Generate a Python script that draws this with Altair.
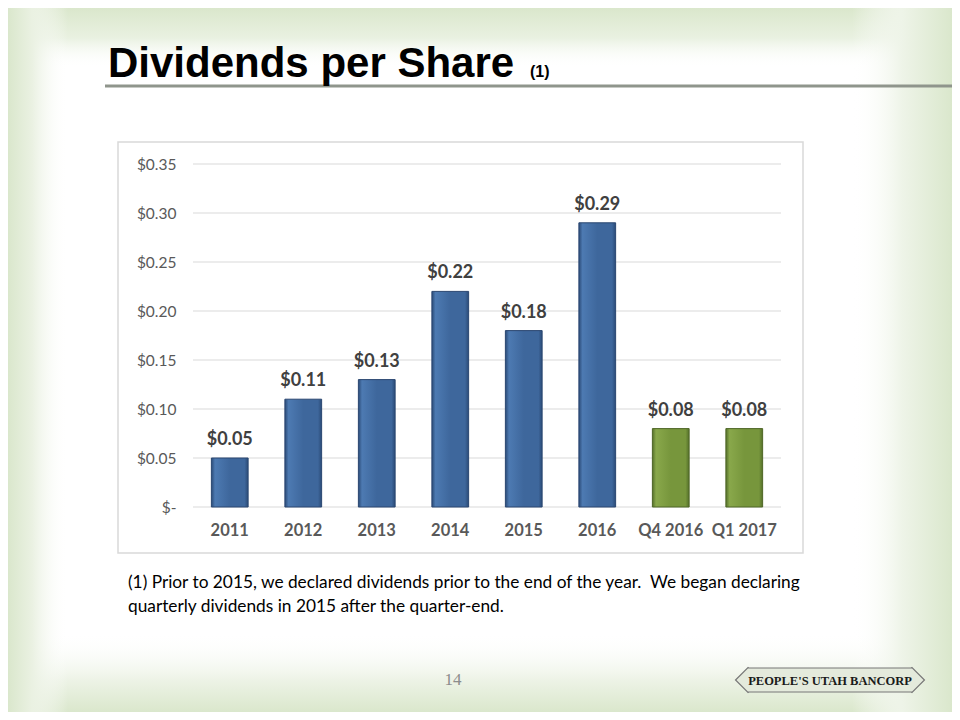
import altair as alt
import pandas as pd

categories = ["2011", "2012", "2013", "2014", "2015", "2016", "Q4 2016", "Q1 2017"]
values = [0.05, 0.11, 0.13, 0.22, 0.18, 0.29, 0.08, 0.08]
groups = ["annual", "annual", "annual", "annual", "annual", "annual", "quarter", "quarter"]
tick_values = [0.0, 0.05, 0.10, 0.15, 0.20, 0.25, 0.30, 0.35]

title_text = "Dividends per Share"
title_note = "(1)"
footnote_lines = [
    "(1) Prior to 2015, we declared dividends prior to the end of the year.\u00a0 We began declaring",
    "quarterly dividends in 2015 after the quarter-end.",
]
page_number = "14"
logo_text = "PEOPLE'S UTAH BANCORP"

df = pd.DataFrame({"category": categories, "value": values, "group": groups})
df["label"] = ["$" + format(v, ".2f") for v in values]
ticks = pd.DataFrame({"value": tick_values})
one = pd.DataFrame({"k": [0]})

W, H = 588, 343
PL, PT, PR, PB = 185, 156, 171, 205
X0, X1, Y0, Y1 = -PL, W + PR, -PT, H + PB

BODY = "Lato, Carlito, Calibri, sans-serif"

x_enc = alt.X(
    "category:N",
    sort=categories,
    scale=alt.Scale(paddingInner=0.5, paddingOuter=0.25),
    axis=alt.Axis(
        title=None, labelAngle=0, ticks=False, domain=False, grid=False, zindex=2,
        labelFont=BODY, labelFontSize=16.5, labelFontWeight="bold",
        labelColor="#595959", labelPadding=15,
    ),
)
y_axis = alt.Axis(
    title=None, values=tick_values, ticks=False, domain=False, grid=False, zindex=2,
    labelFont=BODY, labelFontSize=15.5, labelColor="#595959", labelPadding=17,
    labelExpr="datum.value == 0 ? '$-\u00a0\u00a0' : '$' + format(datum.value, '.2f')",
)
y_scale = alt.Scale(domain=[0, 0.35], nice=False)


def y_enc():
    return alt.Y("value:Q", scale=y_scale, axis=y_axis)


G = "#dae7cc"
T = "rgba(255,255,255,0)"


def fade(x1, y1, x2, y2, stops):
    return alt.Gradient(
        gradient="linear", x1=x1, y1=y1, x2=x2, y2=y2,
        stops=[alt.GradientStop(offset=o, color=c) for o, c in stops],
    )


base_bg = alt.Chart(one).mark_rect(fill="#ffffff").encode(
    x=alt.value(X0), x2=alt.value(X1), y=alt.value(Y0), y2=alt.value(Y1)
)
top_bg = alt.Chart(one).mark_rect(fill=fade(0, 0, 0, 1, [(0, G), (0.5, "#e9f1e1"), (1, T)])).encode(
    x=alt.value(X0), x2=alt.value(X1), y=alt.value(Y0), y2=alt.value(Y0 + 60)
)
bottom_bg = alt.Chart(one).mark_rect(fill=fade(0, 0, 0, 1, [(0, T), (0.6, "#edf3e6"), (1, G)])).encode(
    x=alt.value(X0), x2=alt.value(X1), y=alt.value(Y1 - 80), y2=alt.value(Y1)
)
left_bg = alt.Chart(one).mark_rect(fill=fade(0, 0, 1, 0, [(0, G), (0.4, "#eaf1e2"), (1, T)])).encode(
    x=alt.value(X0), x2=alt.value(X0 + 60), y=alt.value(Y0), y2=alt.value(Y1)
)
right_bg = alt.Chart(one).mark_rect(fill=fade(0, 0, 1, 0, [(0, T), (0.5, "#eef4e8"), (1, G)])).encode(
    x=alt.value(X1 - 100), x2=alt.value(X1), y=alt.value(Y0), y2=alt.value(Y1)
)

frame = alt.Chart(one).mark_rect(fill="#ffffff", stroke="#d9d9d9", strokeWidth=1.5).encode(
    x=alt.value(-75), x2=alt.value(610), y=alt.value(-22), y2=alt.value(389)
)

title_rule = alt.Chart(one).mark_rule(color="#8f958c", strokeWidth=3).encode(
    x=alt.value(-88), x2=alt.value(X1), y=alt.value(-78)
)

title = alt.Chart(one).mark_text(
    text=title_text, align="left", baseline="alphabetic",
    font="Liberation Sans, Arial, sans-serif",
    fontSize=42, fontWeight="bold", color="#000000",
).encode(x=alt.value(-85), y=alt.value(-87))

title_sup = alt.Chart(one).mark_text(
    text=title_note, align="left", baseline="alphabetic",
    font="Liberation Sans, Arial, sans-serif", fontSize=16, fontWeight="bold", color="#000000",
).encode(x=alt.value(337), y=alt.value(-87))

grid = alt.Chart(ticks).mark_rule(color="#d9d9d9", strokeWidth=1.2).encode(
    y=y_enc(), x=alt.value(0), x2=alt.value(W)
)


def bar_fill(edge, mid, light):
    return alt.Gradient(
        gradient="linear", x1=0, y1=0, x2=1, y2=0,
        stops=[
            alt.GradientStop(offset=0, color=edge),
            alt.GradientStop(offset=0.1, color=light),
            alt.GradientStop(offset=0.5, color=mid),
            alt.GradientStop(offset=0.9, color=mid),
            alt.GradientStop(offset=1, color=edge),
        ],
    )


bars_blue = alt.Chart(df).transform_filter(alt.datum.group == "annual").mark_bar(
    fill=bar_fill("#2b4b77", "#3e679c", "#4d7ab2"), stroke="#2a4670", strokeWidth=1
).encode(x=x_enc, y=y_enc())

bars_green = alt.Chart(df).transform_filter(alt.datum.group == "quarter").mark_bar(
    fill=bar_fill("#55702a", "#77963c", "#89a84b"), stroke="#4e6626", strokeWidth=1
).encode(x=x_enc, y=y_enc())

labels = alt.Chart(df).mark_text(
    baseline="bottom", dy=-9, font=BODY, fontSize=18, fontWeight="bold", color="#404040"
).encode(x=x_enc, y=y_enc(), text="label:N")

foot1 = alt.Chart(one).mark_text(
    text=footnote_lines[0], align="left", baseline="alphabetic",
    font=BODY, fontSize=17.3, color="#000000",
).encode(x=alt.value(-65), y=alt.value(424))
foot2 = alt.Chart(one).mark_text(
    text=footnote_lines[1], align="left", baseline="alphabetic",
    font=BODY, fontSize=17.3, color="#000000",
).encode(x=alt.value(-65), y=alt.value(448))

page = alt.Chart(one).mark_text(
    text=page_number, align="center", baseline="middle",
    font="Liberation Serif, Times New Roman, serif", fontSize=17, color="#8c8c8c",
).encode(x=alt.value(260), y=alt.value(516))

logo_ends = alt.Chart(pd.DataFrame({"px": [555, 719]})).mark_point(
    shape="diamond", size=620, filled=True, fill="#e4eadc", stroke="#777777", strokeWidth=1.2, opacity=1
).encode(x=alt.X("px:Q", scale=None), y=alt.value(516))

logo_box = alt.Chart(one).mark_rect(fill="#e4eadc").encode(
    x=alt.value(555), x2=alt.value(719), y=alt.value(504), y2=alt.value(528)
)
logo_lines = alt.Chart(pd.DataFrame({"py": [504, 528]})).mark_rule(color="#777777", strokeWidth=1.2).encode(
    x=alt.value(555), x2=alt.value(719), y=alt.Y("py:Q", scale=None)
)

logo = alt.Chart(one).mark_text(
    text=logo_text, align="center", baseline="middle",
    font="Liberation Serif, Times New Roman, serif", fontSize=12.5, fontWeight="bold",
    color="#1a1a1a",
).encode(x=alt.value(637), y=alt.value(517))

chart = alt.layer(
    base_bg, top_bg, bottom_bg, left_bg, right_bg, frame, title_rule, title, title_sup, grid,
    bars_blue, bars_green, labels, foot1, foot2, page, logo_ends, logo_box, logo_lines, logo,
).properties(
    width=W, height=H,
    autosize=alt.AutoSizeParams(type="none"),
    padding={"left": PL, "top": PT, "right": PR, "bottom": PB},
).configure_view(stroke=None).configure(background="#ffffff")

chart.save("out.html", embed_options={"renderer": "svg", "actions": False})
